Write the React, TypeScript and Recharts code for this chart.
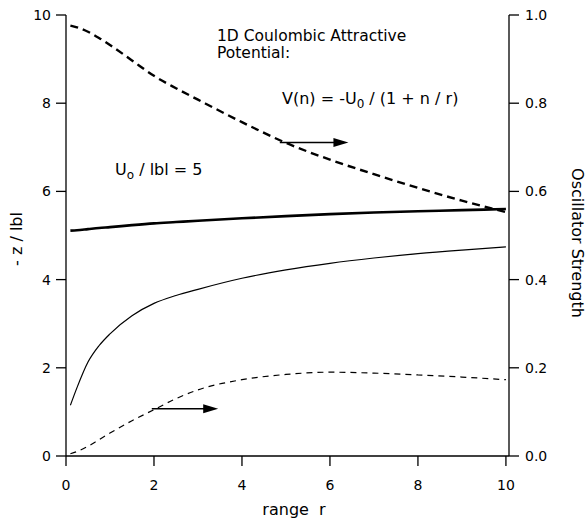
import React from "react";
import {
  LineChart,
  Line,
  XAxis,
  YAxis,
  ReferenceLine,
} from "recharts";

// range r
const rangeR = [0.1, 0.25, 0.5, 0.75, 1, 1.5, 2, 2.5, 3, 4, 5, 6, 7, 8, 9, 10];

// left axis (- z / |b|)
const zUpper = [5.11, 5.12, 5.145, 5.17, 5.19, 5.235, 5.275, 5.305, 5.335, 5.39, 5.44, 5.485, 5.52, 5.55, 5.575, 5.6];
const zLower = [1.15, 1.55, 2.13, 2.5, 2.77, 3.18, 3.46, 3.64, 3.78, 4.03, 4.22, 4.37, 4.49, 4.59, 4.67, 4.74];

// right axis (oscillator strength)
const fUpper = [0.976, 0.972, 0.962, 0.948, 0.932, 0.897, 0.862, 0.834, 0.808, 0.757, 0.71, 0.672, 0.639, 0.608, 0.579, 0.553];
const fLower = [0.005, 0.01, 0.022, 0.037, 0.052, 0.08, 0.105, 0.13, 0.15, 0.173, 0.185, 0.19, 0.188, 0.184, 0.179, 0.173];

const xTicks = [0, 2, 4, 6, 8, 10];
const leftTicks = [0, 2, 4, 6, 8, 10];
const rightTicks = [0, 0.2, 0.4, 0.6, 0.8, 1.0];

// arrows pointing to the right-hand axis
const arrowTop = { x1: 4.86, x2: 6.42, y: 7.11 };
const arrowBottom = { x1: 1.95, x2: 3.46, y: 1.07 };

const data = rangeR.map((r, i) => ({
  r,
  zUpper: zUpper[i],
  zLower: zLower[i],
  fUpper: fUpper[i],
  fLower: fLower[i],
}));

const FONT = "DejaVu Sans";
const tickStyle = { fill: "#000", fontSize: 14, fontFamily: FONT };

function Arrow(props: any) {
  const { x1, y1, x2, y2 } = props;
  return (
    <g>
      <line x1={x1} y1={y1} x2={x2 - 12} y2={y2} stroke="#000" strokeWidth={1.6} />
      <polygon
        points={`${x2},${y2} ${x2 - 15},${y2 - 4.5} ${x2 - 15},${y2 + 4.5}`}
        fill="#000"
      />
    </g>
  );
}

export default function App() {
  return (
    <div
      style={{
        position: "absolute",
        left: 0,
        top: 0,
        width: 586,
        height: 523,
        background: "#fff",
        overflow: "hidden",
      }}
    >
      <LineChart
        width={586}
        height={523}
        data={data}
        margin={{ top: 15, right: 0, bottom: 0, left: 0 }}
      >
        <XAxis
          dataKey="r"
          type="number"
          domain={[0, 10.07]}
          ticks={xTicks}
          height={67}
          tickSize={10}
          tickMargin={14}
          stroke="#000"
          strokeWidth={1.3}
          tick={tickStyle}
        />
        <YAxis
          yAxisId="left"
          domain={[0, 10]}
          ticks={leftTicks}
          width={66}
          tickSize={10}
          tickMargin={5}
          stroke="#000"
          strokeWidth={1.3}
          tick={tickStyle}
        />
        <YAxis
          yAxisId="right"
          orientation="right"
          domain={[0, 1]}
          ticks={rightTicks}
          tickFormatter={(v: number) => v.toFixed(1)}
          width={77}
          tickSize={10}
          tickMargin={6}
          stroke="#000"
          strokeWidth={1.3}
          tick={tickStyle}
        />

        <Line
          yAxisId="left"
          dataKey="zUpper"
          type="monotone"
          stroke="#000"
          strokeWidth={2.6}
          dot={false}
          isAnimationActive={false}
        />
        <Line
          yAxisId="left"
          dataKey="zLower"
          type="monotone"
          stroke="#000"
          strokeWidth={1.2}
          dot={false}
          isAnimationActive={false}
        />
        <Line
          yAxisId="right"
          dataKey="fUpper"
          type="monotone"
          stroke="#000"
          strokeWidth={2.4}
          strokeDasharray="8 5"
          dot={false}
          isAnimationActive={false}
        />
        <Line
          yAxisId="right"
          dataKey="fLower"
          type="monotone"
          stroke="#000"
          strokeWidth={1.2}
          strokeDasharray="6 5"
          dot={false}
          isAnimationActive={false}
        />

        <ReferenceLine
          yAxisId="left"
          segment={[
            { x: arrowTop.x1, y: arrowTop.y },
            { x: arrowTop.x2, y: arrowTop.y },
          ]}
          shape={Arrow}
        />
        <ReferenceLine
          yAxisId="left"
          segment={[
            { x: arrowBottom.x1, y: arrowBottom.y },
            { x: arrowBottom.x2, y: arrowBottom.y },
          ]}
          shape={Arrow}
        />

        <text x={217} y={41} fontFamily={FONT} fontSize={15.5} fill="#000">
          1D Coulombic Attractive
        </text>
        <text x={217} y={58} fontFamily={FONT} fontSize={15.5} fill="#000">
          Potential:
        </text>
        <text x={282} y={104} fontFamily={FONT} fontSize={16} fill="#000">
          V(n) = -U
          <tspan fontSize={12} dy={4}>0</tspan>
          <tspan dy={-4}> / (1 + n / r)</tspan>
        </text>
        <text x={115} y={175} fontFamily={FONT} fontSize={16} fill="#000">
          U
          <tspan fontSize={12} dy={4}>o</tspan>
          <tspan dy={-4}> / lbl = 5</tspan>
        </text>

        <text
          x={16}
          y={239}
          fontFamily={FONT}
          fontSize={16}
          fill="#000"
          textAnchor="middle"
          dominantBaseline="central"
          transform="rotate(-90 16 239)"
        >
          - z / lbl
        </text>
        <text
          x={577}
          y={243}
          fontFamily={FONT}
          fontSize={16}
          fill="#000"
          textAnchor="middle"
          dominantBaseline="central"
          transform="rotate(90 577 243)"
        >
          Oscillator Strength
        </text>
        <text
          x={294}
          y={515}
          fontFamily={FONT}
          fontSize={16}
          fill="#000"
          textAnchor="middle"
          style={{ whiteSpace: "pre" }}
        >
          {"range  r"}
        </text>
      </LineChart>
    </div>
  );
}
